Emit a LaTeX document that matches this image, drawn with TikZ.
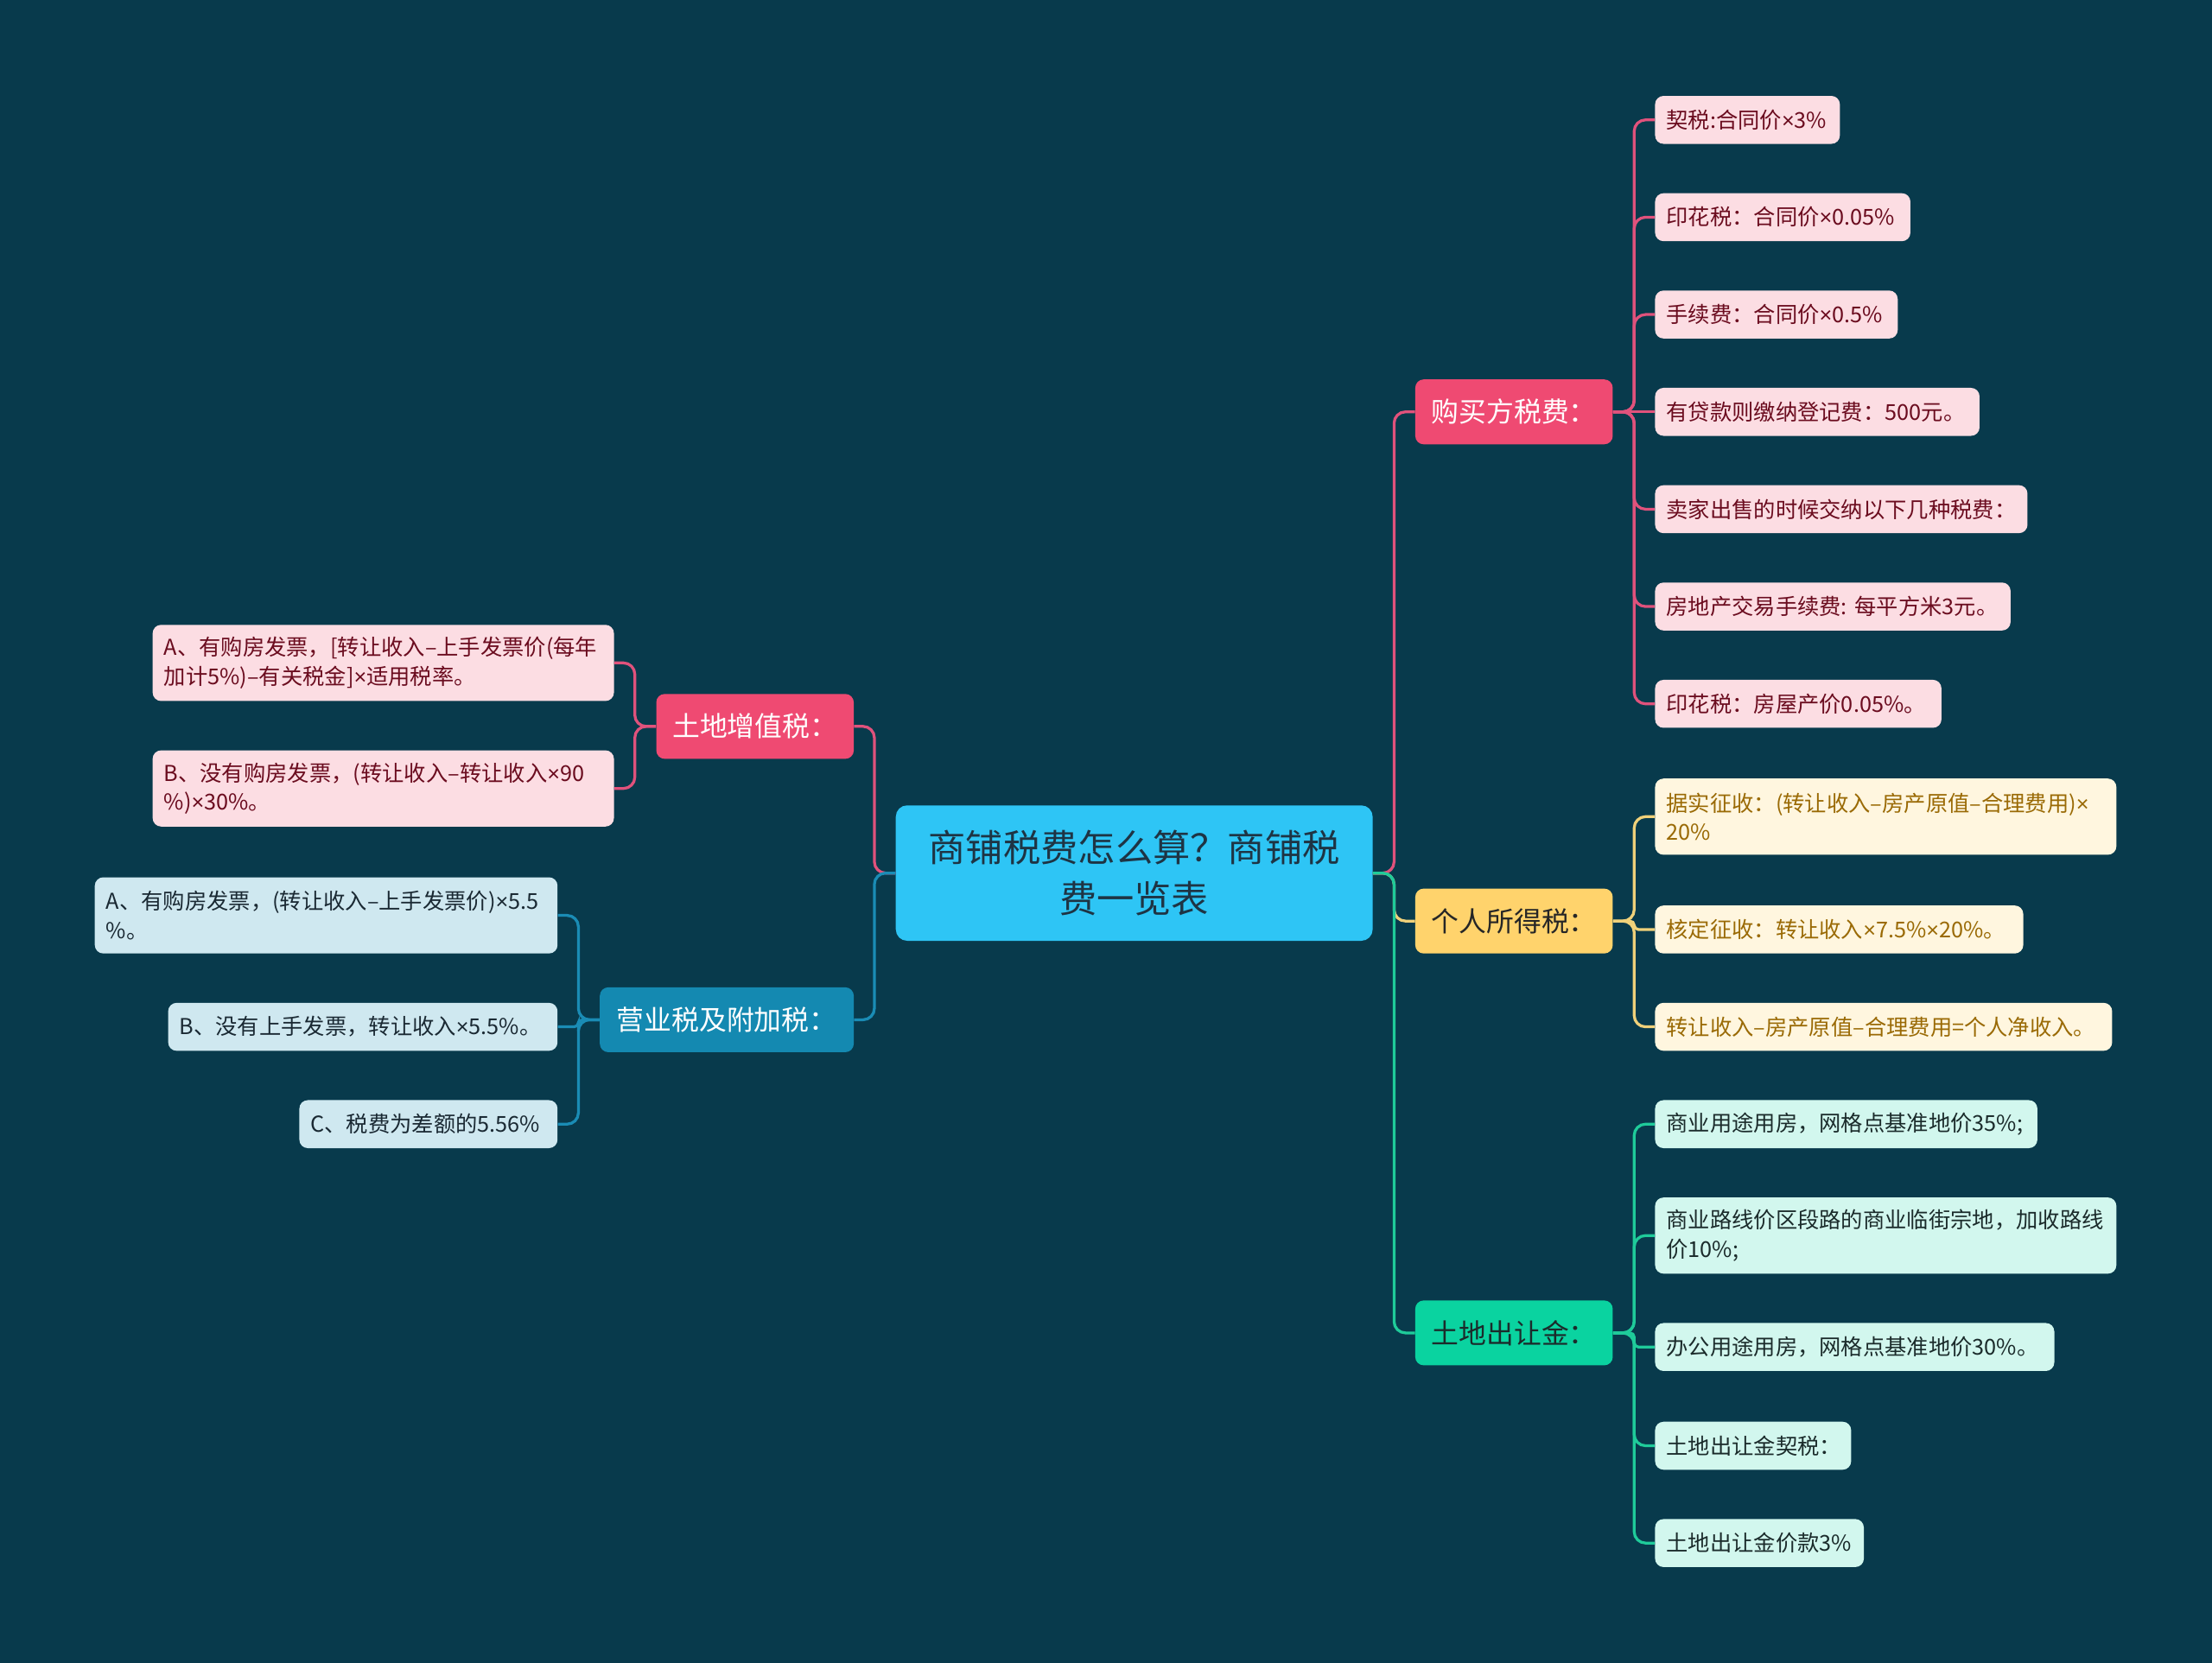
\documentclass[tikz,border=0pt]{standalone}
\usepackage{fontspec}
\newfontfamily\cjk{Noto Sans CJK SC}
\newfontfamily\latn{Liberation Sans}
\newcommand\mul{{\latn ×}}
\exhyphenpenalty=10000
\hyphenpenalty=10000
\definecolor{bg}{HTML}{083A4C}
\definecolor{ctr}{HTML}{2EC5F5}
\definecolor{ctrT}{HTML}{1E3444}
\definecolor{pinkM}{HTML}{EF4A72}
\definecolor{pinkL}{HTML}{FCDDE3}
\definecolor{pinkT}{HTML}{6B0C1F}
\definecolor{pinkLn}{HTML}{E0527C}
\definecolor{yelM}{HTML}{FFD36C}
\definecolor{yelL}{HTML}{FFF6DF}
\definecolor{yelT}{HTML}{9A6A05}
\definecolor{yelLn}{HTML}{F0D17A}
\definecolor{grnM}{HTML}{0AD3A0}
\definecolor{grnL}{HTML}{D2F7EE}
\definecolor{grnT}{HTML}{1B2B2B}
\definecolor{grnLn}{HTML}{1FCB9A}
\definecolor{bluM}{HTML}{1489B1}
\definecolor{bluL}{HTML}{CFE8F0}
\definecolor{bluT}{HTML}{1A2933}
\definecolor{bluLn}{HTML}{1A8CB5}
\begin{document}
\begin{tikzpicture}[x=1pt,y=-1pt,
  leaf/.style={rounded corners=6pt, anchor=west, minimum height=34pt, inner xsep=8pt, inner ysep=3pt, align=left, font=\cjk\fontsize{15.5}{20.5}\selectfont},
  mainbox/.style={rounded corners=6pt, anchor=west, minimum height=46pt, inner sep=0pt, align=center, font=\cjk\fontsize{19.5}{24}\selectfont},
  conn/.style={line width=2pt, rounded corners=8pt},
  connS/.style={line width=2pt, rounded corners=3pt}]
\fill[bg] (0,0) rectangle (1568,1179);
\useasboundingbox (0,0) rectangle (1568,1179);

% center
\node[rounded corners=8pt, fill=ctr, text=ctrT, minimum width=338pt, minimum height=96pt, inner sep=0pt, align=center, font=\cjk\fontsize{26.5}{36}\selectfont] (c) at (804,619) {商铺税费怎么算？商铺税\\费一览表};

% main branches
\node[mainbox, fill=pinkM, text=white, minimum width=140pt] (buy) at (1003,292) {购买方税费：};
\node[mainbox, fill=yelM, text=black!85, minimum width=140pt] (per) at (1003,653) {个人所得税：};
\node[mainbox, fill=grnM, text=grnT, minimum width=140pt] (land) at (1003,945) {土地出让金：};
\node[mainbox, fill=pinkM, text=white, minimum width=140pt] (zz) at (465,515) {土地增值税：};
\node[mainbox, fill=bluM, text=white, minimum width=180pt] (yy) at (425,723) {营业税及附加税：};

% buyer leaves
\node[leaf, fill=pinkL, text=pinkT, text width=115pt] (b1) at (1173,85) {契税:合同价\mul{}3\%};
\node[leaf, fill=pinkL, text=pinkT, text width=165pt] (b2) at (1173,154) {印花税：合同价\mul{}0.05\%};
\node[leaf, fill=pinkL, text=pinkT, text width=156pt] (b3) at (1173,223) {手续费：合同价\mul{}0.5\%};
\node[leaf, fill=pinkL, text=pinkT, text width=214pt] (b4) at (1173,292) {有贷款则缴纳登记费：500元。};
\node[leaf, fill=pinkL, text=pinkT, text width=248pt] (b5) at (1173,361) {卖家出售的时候交纳以下几种税费：};
\node[leaf, fill=pinkL, text=pinkT, text width=236pt] (b6) at (1173,430) {房地产交易手续费:~每平方米3元。};
\node[leaf, fill=pinkL, text=pinkT, text width=187pt] (b7) at (1173,499) {印花税：房屋产价0.05\%。};

% personal income tax leaves
\node[leaf, fill=yelL, text=yelT, text width=311pt, minimum height=54pt] (p1) at (1173,579) {据实征收：(转让收入–房产原值–合理费用)\mul{}\\20\%};
\node[leaf, fill=yelL, text=yelT, text width=245pt] (p2) at (1173,659) {核定征收：转让收入\mul{}7.5\%\mul{}20\%。};
\node[leaf, fill=yelL, text=yelT, text width=308pt] (p3) at (1173,728) {转让收入–房产原值–合理费用=个人净收入。};

% land leaves
\node[leaf, fill=grnL, text=grnT, text width=255pt] (g1) at (1173,797) {商业用途用房，网格点基准地价35\%;};
\node[leaf, fill=grnL, text=grnT, text width=311pt, minimum height=54pt] (g2) at (1173,876) {商业路线价区段路的商业临街宗地，加收路线\\价10\%;};
\node[leaf, fill=grnL, text=grnT, text width=267pt] (g3) at (1173,955) {办公用途用房，网格点基准地价30\%。};
\node[leaf, fill=grnL, text=grnT, text width=123pt] (g4) at (1173,1025) {土地出让金契税：};
\node[leaf, fill=grnL, text=grnT, text width=132pt] (g5) at (1173,1094) {土地出让金价款3\%};

% land VAT leaves
\node[leaf, fill=pinkL, text=pinkT, text width=311pt, minimum height=54pt] (z1) at (108,470) {A、有购房发票，[转让收入–上手发票价(每年\\加计5\%)–有关税金]\mul{}适用税率。};
\node[leaf, fill=pinkL, text=pinkT, text width=311pt, minimum height=54pt] (z2) at (108,559) {B、没有购房发票，(转让收入–转让收入\mul{}90\\\%)\mul{}30\%。};

% business tax leaves
\node[leaf, fill=bluL, text=bluT, text width=312pt, minimum height=54pt] (y1) at (67,649) {\mbox{A、有购房发票，(转让收入–上手发票价)\mul{}5.5}\\\%。};
\node[leaf, fill=bluL, text=bluT, text width=260pt] (y2) at (119,728) {B、没有上手发票，转让收入\mul{}5.5\%。};
\node[leaf, fill=bluL, text=bluT, text width=167pt] (y3) at (212,797) {C、税费为差额的5.56\%};

% connectors center -> main
\draw[conn, yelLn] (c.east) -- ++(15,0) |- (per.west);
\draw[conn, pinkLn] (c.east) -- ++(15,0) |- (buy.west);
\draw[conn, grnLn] (c.east) -- ++(15,0) |- (land.west);
\draw[conn, pinkLn] (c.west) -- ++(-15,0) |- (zz.east);
\draw[conn, bluLn] (c.west) -- ++(-15,0) |- (yy.east);

% buyer
\foreach \n in {b1,b2,b3,b5,b6,b7}
  \draw[conn, pinkLn] (buy.east) -- ++(15,0) |- (\n.west);
\draw[conn, pinkLn] (buy.east) -- (b4.west);
% personal
\foreach \n in {p1,p3}
  \draw[conn, yelLn] (per.east) -- ++(15,0) |- (\n.west);
\draw[connS, yelLn] (per.east) -- ++(15,0) |- (p2.west);
% land
\foreach \n in {g1,g2,g4,g5}
  \draw[conn, grnLn] (land.east) -- ++(15,0) |- (\n.west);
\draw[connS, grnLn] (land.east) -- ++(15,0) |- (g3.west);
% land VAT
\foreach \n in {z1,z2}
  \draw[conn, pinkLn] (zz.west) -- ++(-15,0) |- (\n.east);
% business tax
\foreach \n in {y1,y3}
  \draw[conn, bluLn] (yy.west) -- ++(-15,0) |- (\n.east);
\draw[connS, bluLn] (yy.west) -- ++(-15,0) |- (y2.east);
\end{tikzpicture}
\end{document}
